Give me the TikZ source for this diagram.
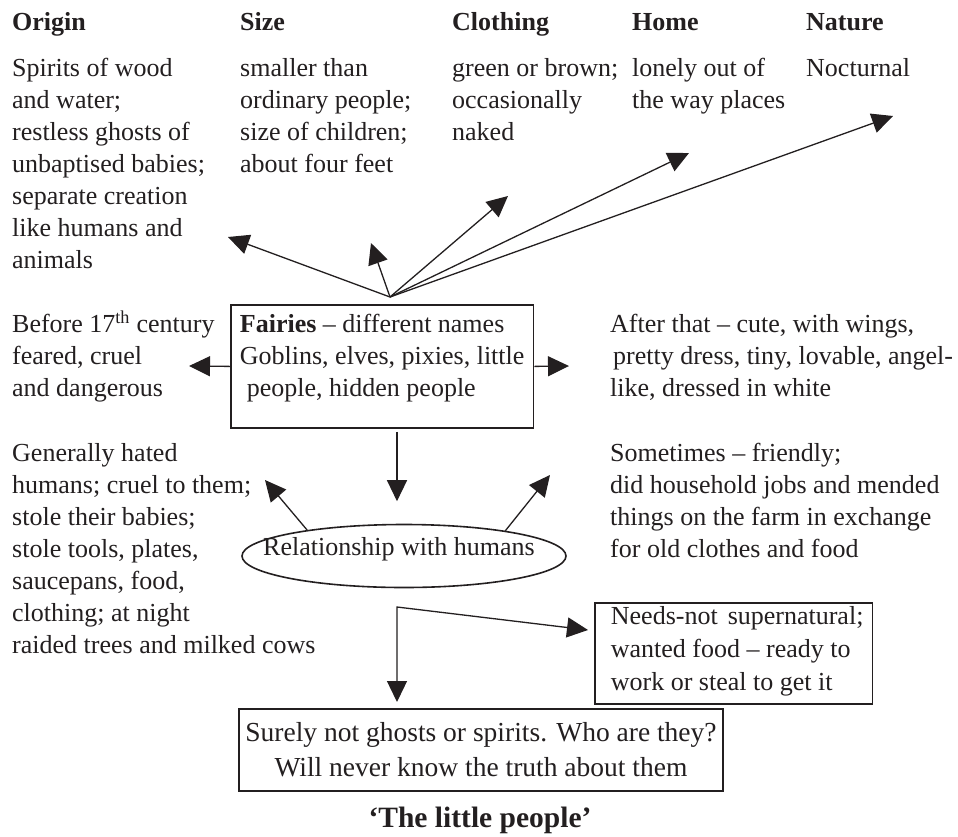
\documentclass[tikz,border=0pt]{standalone}
\usepackage{fontspec}
\setmainfont{Liberation Serif}
\usetikzlibrary{arrows.meta,positioning,calc,shapes.geometric}

\definecolor{ink}{RGB}{35,31,32}
\newcommand{\bodyfont}{\fontsize{26}{32}\selectfont}
\newcommand{\boxfont}{\fontsize{26}{33}\selectfont}
\newcommand{\closefont}{\fontsize{27.5}{35}\selectfont}
\newcommand{\pad}{\hspace*{7pt}}

\begin{document}
\begin{tikzpicture}[x=1pt,y=-1pt,
    txt/.style={anchor=north west, inner sep=0pt, align=left, font=\bodyfont, text=ink},
    head/.style={anchor=base west, inner sep=0pt, font=\bodyfont\bfseries, text=ink},
    frame/.style={draw=ink, line width=1.8pt, text=ink},
    arr/.style={draw=ink, line width=1.3pt, -{Triangle[length=21pt,width=20pt]}},
    arrboth/.style={draw=ink, line width=1.3pt, {Triangle[length=21pt,width=20pt]}-{Triangle[length=21pt,width=20pt]}}]
    \fill[white] (0,0) rectangle (958,836);
    \useasboundingbox (0,0) rectangle (958,836);

    % headings
    \node[head] (h-origin) at (12,30) {Origin};
    \node[head] (h-size) at (240,30) {Size};
    \node[head] (h-clothing) at (452,30) {Clothing};
    \node[head] (h-home) at (632,30) {Home};
    \node[head] (h-nature) at (806,30) {Nature};

    \node[txt] (origin) at (12,53.6) {\strut Spirits of wood\\and water;\\restless ghosts of\\unbaptised babies;\\separate creation\\like humans and\\animals};
    \node[txt] (size) at (240,53.6) {\strut smaller than\\ordinary people;\\size of children;\\about four feet};
    \node[txt] (clothing) at (452,53.6) {\strut green or brown;\\occasionally\\naked};
    \node[txt] (home) at (632,53.6) {\strut lonely out of\\the way places};
    \node[txt] (nature) at (806,53.6) {\strut Nocturnal};

    % centre box
    \node[frame, anchor=north west, inner xsep=9pt, inner ysep=0pt, align=left, font=\bodyfont] (fairies) at (230,304)
        {\rule{0pt}{28pt}\textbf{Fairies} -- different names\\Goblins, elves, pixies, little\\\hspace*{7pt}people, hidden people\rule[-31pt]{0pt}{31pt}};

    \node[txt] (before) at (12,309.6) {\strut Before 17\textsuperscript{th} century\\feared, cruel\\and dangerous};
    \node[txt] (after) at (610,309.6) {\strut After that -- cute, with wings,\\\hspace*{3pt}pretty dress, tiny, lovable, angel-\\like, dressed in white};

    \node[txt] (hated) at (12,438.6) {\strut Generally hated\\humans; cruel to them;\\stole their babies;\\stole tools, plates,\\saucepans, food,\\clothing; at night\\raided trees and milked cows};
    \node[txt] (friendly) at (610,438.6) {\strut Sometimes -- friendly;\\did household jobs and mended\\things on the farm in exchange\\for old clothes and food};

    \node[draw=ink, line width=1.6pt, ellipse, minimum width=324pt, minimum height=63pt, inner sep=0pt,
        text height=18pt, text depth=20pt, font=\bodyfont, text=ink] (rel) at (404,556)
        {\makebox[0pt]{Relationship with humans\hspace{10pt}}};

    \node[frame, anchor=north west, inner xsep=9pt, inner ysep=0pt, minimum height=101pt, align=left, font=\boxfont] (needs) at (594,602)
        {\pad Needs-not\hspace{10pt}supernatural;\\\pad wanted food -- ready to\\\pad work or steal to get it\rule[-10pt]{0pt}{0pt}};

    \node[frame, minimum width=484pt, minimum height=82pt, align=center, font=\closefont] (surely) at (481,750)
        {Surely not ghosts or spirits. Who are they?\\Will never know the truth about them};

    \node[anchor=base, inner sep=0pt, font=\fontsize{29.5}{36}\selectfont\bfseries, text=ink] (title) at (480,827) {‘The little people’};

    % arrows
    \coordinate (hub) at (390,297);
    \coordinate (to-origin) at (228,237);
    \coordinate (to-size) at (371,243);
    \coordinate (to-clothing) at (508,196);
    \coordinate (to-home) at (689,153);
    \coordinate (to-nature) at (893,116);
    \foreach \t in {origin,size,clothing,home,nature}
        \draw[arr] (hub) -- (to-\t);

    \coordinate (to-before) at (189,366);
    \coordinate (to-after) at (569,366);
    \draw[arr] (fairies.west) -- (to-before);
    \draw[arr] (fairies.east) -- (to-after);

    \coordinate (kink) at (397,607);
    \draw[arr] ($(fairies.south -| kink)+(0,3)$) -- ($(rel.north -| kink)+(0,-22.5)$);

    \coordinate (to-hated) at (265,480);
    \coordinate (to-friendly) at (550,475);
    \draw[arr] (rel.165) -- (to-hated);
    \draw[arr] (rel.14) -- (to-friendly);

    \coordinate (to-surely) at (397,702);
    \coordinate (to-needs) at (588,630);
    \draw[arrboth] (to-surely) -- (kink) -- (to-needs);
\end{tikzpicture}
\end{document}
